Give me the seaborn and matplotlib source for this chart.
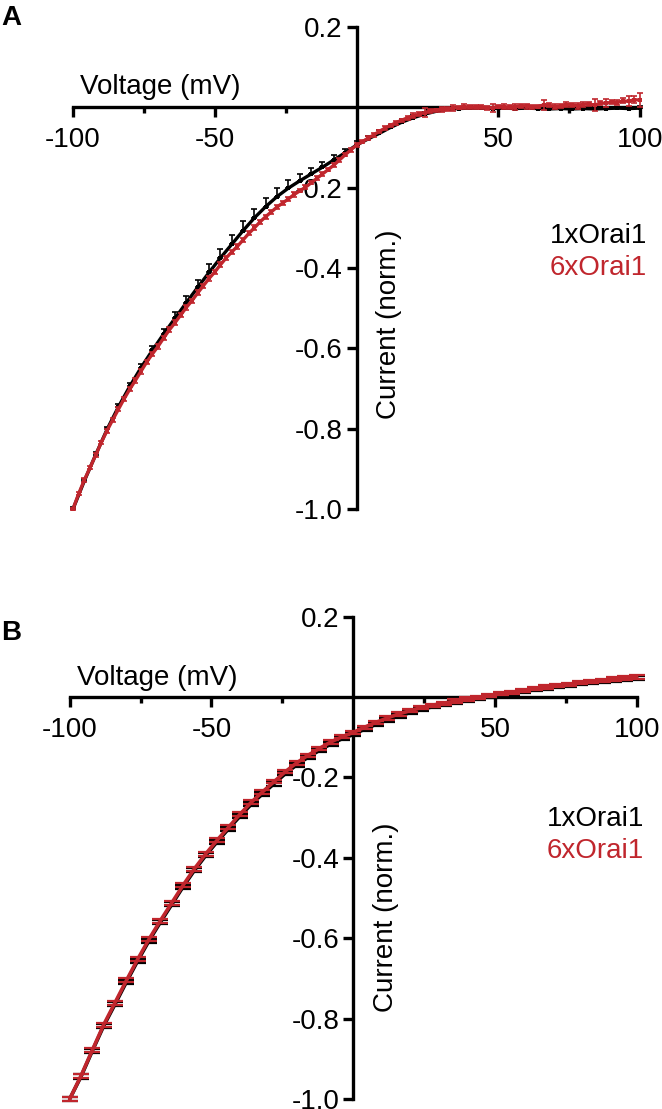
import numpy as np
import pandas as pd
import matplotlib
matplotlib.use("Agg")
import matplotlib.pyplot as plt
import seaborn as sns

# ---- data ----
# panel A, 1xOrai1 (4 mV steps)
volt_4 = list(range(-100, 101, 4))
a_1x = [-1.000, -0.930, -0.865, -0.802, -0.746, -0.695, -0.648, -0.605, -0.564, -0.525,
        -0.486, -0.448, -0.411, -0.375, -0.341, -0.307, -0.275, -0.247, -0.222, -0.201,
        -0.183, -0.166, -0.149, -0.131, -0.113, -0.094, -0.079, -0.065, -0.050, -0.037,
        -0.026, -0.017, -0.010, -0.005, -0.003, -0.002, -0.002, -0.003, -0.002, -0.003,
        -0.002, -0.003, -0.004, -0.003, -0.004, -0.003, -0.004, -0.003, -0.002, -0.003,
        -0.002]
a_1x_err = [0.004, 0.005, 0.006, 0.007, 0.008, 0.009, 0.010, 0.012, 0.013, 0.015,
            0.017, 0.019, 0.021, 0.022, 0.023, 0.023, 0.023, 0.022, 0.021, 0.020,
            0.018, 0.016, 0.014, 0.012, 0.010, 0.009, 0.008, 0.008, 0.007, 0.007,
            0.006, 0.006, 0.005, 0.005, 0.004, 0.005, 0.004, 0.005, 0.004, 0.005,
            0.004, 0.005, 0.006, 0.004, 0.005, 0.004, 0.006, 0.005, 0.004, 0.005,
            0.006]

# panel A, 6xOrai1 (2 mV steps)
volt_2 = list(range(-100, 101, 2))
a_6x = [-1.000, -0.962, -0.928, -0.897, -0.866, -0.834, -0.805, -0.778, -0.752, -0.726,
        -0.702, -0.680, -0.657, -0.634, -0.614, -0.595, -0.574, -0.554, -0.536, -0.517,
        -0.498, -0.481, -0.462, -0.444, -0.426, -0.410, -0.392, -0.375, -0.360, -0.346,
        -0.330, -0.314, -0.300, -0.285, -0.272, -0.260, -0.248, -0.238, -0.228, -0.217,
        -0.208, -0.199, -0.188, -0.177, -0.166, -0.155, -0.144, -0.131, -0.118, -0.106,
        -0.094, -0.086, -0.077, -0.069, -0.060, -0.052, -0.045, -0.038, -0.032, -0.026,
        -0.021, -0.017, -0.013, -0.009, -0.007, -0.005, -0.004, -0.001, -0.001, 0.002,
        0.000, 0.001, 0.001, -0.001, -0.001, 0.002, 0.002, 0.000, 0.001, 0.004,
        0.003, 0.001, 0.002, 0.006, 0.005, 0.002, 0.003, 0.007, 0.006, 0.004,
        0.007, 0.009, 0.005, 0.011, 0.010, 0.013, 0.012, 0.016, 0.015, 0.019,
        0.018]
a_6x_err = [0.003, 0.004, 0.004, 0.004, 0.005, 0.004, 0.005, 0.005, 0.005, 0.006,
            0.005, 0.006, 0.006, 0.005, 0.006, 0.006, 0.005, 0.006, 0.006, 0.005,
            0.006, 0.005, 0.006, 0.005, 0.006, 0.005, 0.006, 0.005, 0.005, 0.006,
            0.005, 0.005, 0.006, 0.005, 0.005, 0.005, 0.005, 0.004, 0.005, 0.005,
            0.004, 0.005, 0.004, 0.005, 0.004, 0.004, 0.005, 0.004, 0.004, 0.005,
            0.004, 0.004, 0.005, 0.004, 0.004, 0.005, 0.004, 0.005, 0.004, 0.005,
            0.006, 0.005, 0.012, 0.005, 0.004, 0.006, 0.005, 0.007, 0.004, 0.006,
            0.005, 0.004, 0.006, 0.005, 0.010, 0.004, 0.006, 0.005, 0.007, 0.005,
            0.006, 0.005, 0.004, 0.012, 0.005, 0.006, 0.005, 0.006, 0.004, 0.007,
            0.006, 0.005, 0.015, 0.006, 0.010, 0.005, 0.007, 0.006, 0.012, 0.008,
            0.018]

# panel B (4 mV steps)
b_1x = [-1.000, -0.944, -0.880, -0.818, -0.764, -0.709, -0.656, -0.606, -0.560, -0.516,
        -0.472, -0.431, -0.394, -0.360, -0.328, -0.297, -0.267, -0.241, -0.216, -0.191,
        -0.169, -0.150, -0.133, -0.117, -0.104, -0.093, -0.080, -0.068, -0.057, -0.047,
        -0.039, -0.031, -0.024, -0.019, -0.014, -0.009, -0.004, 0.001, 0.005, 0.009,
        0.014, 0.018, 0.022, 0.026, 0.029, 0.033, 0.036, 0.039, 0.042, 0.045,
        0.047]
b_1x_err = [0.004, 0.005, 0.005, 0.005, 0.005, 0.005, 0.005, 0.005, 0.005, 0.005,
            0.005, 0.005, 0.005, 0.005, 0.005, 0.005, 0.005, 0.004, 0.004, 0.004,
            0.004, 0.004, 0.004, 0.004, 0.004, 0.004, 0.004, 0.004, 0.004, 0.004,
            0.004, 0.004, 0.004, 0.004, 0.004, 0.004, 0.004, 0.004, 0.004, 0.004,
            0.004, 0.004, 0.004, 0.004, 0.004, 0.004, 0.004, 0.004, 0.004, 0.004,
            0.005]
b_6x = [-1.000, -0.942, -0.878, -0.815, -0.760, -0.705, -0.652, -0.602, -0.556, -0.512,
        -0.468, -0.427, -0.390, -0.356, -0.324, -0.292, -0.262, -0.236, -0.211, -0.186,
        -0.164, -0.145, -0.128, -0.112, -0.099, -0.088, -0.075, -0.063, -0.052, -0.042,
        -0.034, -0.026, -0.020, -0.015, -0.010, -0.005, -0.001, 0.004, 0.008, 0.012,
        0.017, 0.021, 0.025, 0.029, 0.032, 0.036, 0.039, 0.042, 0.045, 0.048,
        0.050]
b_6x_err = [0.004, 0.005, 0.005, 0.005, 0.005, 0.005, 0.005, 0.005, 0.005, 0.005,
            0.005, 0.005, 0.005, 0.005, 0.005, 0.005, 0.005, 0.005, 0.004, 0.004,
            0.004, 0.004, 0.004, 0.004, 0.004, 0.004, 0.004, 0.004, 0.004, 0.004,
            0.004, 0.004, 0.004, 0.004, 0.004, 0.004, 0.004, 0.004, 0.004, 0.004,
            0.004, 0.004, 0.004, 0.004, 0.004, 0.004, 0.004, 0.004, 0.004, 0.005,
            0.005]

BLACK = "#000000"
RED = "#C0262D"

sns.set_style("ticks", {"axes.edgecolor": "black", "xtick.color": "black",
                        "ytick.color": "black", "text.color": "black",
                        "axes.labelcolor": "black"})
plt.rcParams["font.family"] = ["Liberation Sans", "DejaVu Sans"]
plt.rcParams["axes.unicode_minus"] = False
FS = 20

fig = plt.figure(figsize=(6.62, 11.09), dpi=100)
axA = fig.add_axes([73 / 662, 1 - 509 / 1109, 567 / 662, 482 / 1109])
axB = fig.add_axes([69.7 / 662, 1 - 1099 / 1109, 567 / 662, 482.3 / 1109])


def style_axes(ax):
    ax.set_xlim(-100, 100)
    ax.set_ylim(-1.0, 0.2)
    for s in ["top", "right"]:
        ax.spines[s].set_visible(False)
    ax.spines["left"].set_position(("data", 0))
    ax.spines["bottom"].set_position(("data", 0))
    for s in ["left", "bottom"]:
        ax.spines[s].set_linewidth(2.4)
        ax.spines[s].set_color("black")
        ax.spines[s].set_zorder(1)
    ax.set_xticks([-100, -50, 50, 100])
    ax.set_xticklabels(["-100", "-50", "50", "100"])
    ax.set_xticks([-75, -25, 25, 75], minor=True)
    yt = [0.2, -0.2, -0.4, -0.6, -0.8, -1.0]
    ax.set_yticks(yt)
    ax.set_yticklabels([f"{v:.1f}" for v in yt])
    ax.tick_params(axis="x", which="major", length=7, width=2.4, labelsize=FS, pad=7,
                   color="black", labelcolor="black")
    ax.tick_params(axis="x", which="minor", length=4, width=2.4, color="black")
    ax.tick_params(axis="y", which="major", length=7, width=2.4, labelsize=FS, pad=3,
                   color="black", labelcolor="black")
    ax.set_xlabel("")
    ax.set_ylabel("")
    ax.patch.set_alpha(0)


# ---- panel A ----
dfA1 = pd.DataFrame({"V": volt_4, "I": a_1x})
dfA6 = pd.DataFrame({"V": volt_2, "I": a_6x})
axA.errorbar(volt_4, a_1x, yerr=[np.zeros(len(a_1x_err)), a_1x_err], fmt="none",
             ecolor=BLACK, elinewidth=1.2, capsize=2.2, capthick=1.2, clip_on=False, zorder=3)
sns.lineplot(data=dfA1, x="V", y="I", ax=axA, color=BLACK, linewidth=2.4,
             marker="s", markersize=2.5, markeredgewidth=0, clip_on=False, zorder=4)
axA.errorbar(volt_2, a_6x, yerr=a_6x_err, fmt="none", ecolor=RED, elinewidth=1.2,
             capsize=2.2, capthick=1.2, clip_on=False, zorder=5)
sns.lineplot(data=dfA6, x="V", y="I", ax=axA, color=RED, linewidth=2.4,
             marker="s", markersize=3, markeredgewidth=0, clip_on=False, zorder=6)
style_axes(axA)

# ---- panel B ----
dfB1 = pd.DataFrame({"V": volt_4, "I": b_1x})
dfB6 = pd.DataFrame({"V": volt_4, "I": b_6x})
axB.errorbar(volt_4, b_1x, yerr=b_1x_err, fmt="none", ecolor=BLACK, elinewidth=1.3,
             capsize=5.5, capthick=1.6, clip_on=False, zorder=3)
sns.lineplot(data=dfB1, x="V", y="I", ax=axB, color=BLACK, linewidth=2.6,
             clip_on=False, zorder=4)
axB.errorbar(volt_4, b_6x, yerr=b_6x_err, fmt="none", ecolor=RED, elinewidth=1.3,
             capsize=5.5, capthick=1.6, clip_on=False, zorder=5)
sns.lineplot(data=dfB6, x="V", y="I", ax=axB, color=RED, linewidth=2.6,
             clip_on=False, zorder=6)
style_axes(axB)

# ---- annotations ----
for ax, vy, cy, l1, l6 in [(axA, 0.034, -0.54, -0.32, -0.40),
                           (axB, 0.029, -0.547, -0.304, -0.384)]:
    ax.text(-97.5, vy, "Voltage (mV)", fontsize=FS, ha="left", va="baseline")
    ax.text(11.5, cy, "Current (norm.)", fontsize=FS, rotation=90,
            ha="center", va="center")
    ax.text(102.5, l1, "1xOrai1", fontsize=FS, color=BLACK, ha="right", va="center")
    ax.text(102.5, l6, "6xOrai1", fontsize=FS, color=RED, ha="right", va="center")

fig.text(0.002, 1 - 5 / 1109, "A", fontsize=FS, fontweight="bold", ha="left", va="top")
fig.text(0.002, 1 - 620 / 1109, "B", fontsize=FS, fontweight="bold", ha="left", va="top")

fig.savefig("out.png", dpi=100)
